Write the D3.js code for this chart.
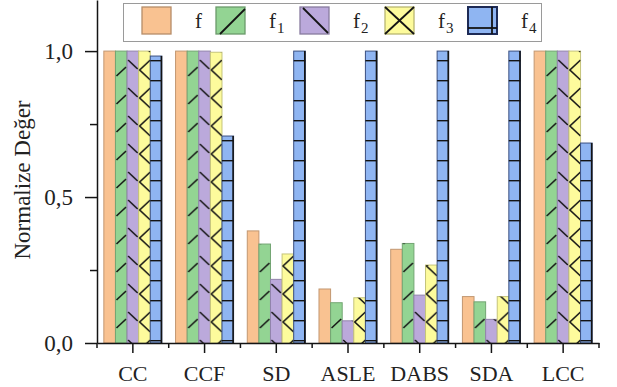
<!DOCTYPE html>
<html>
<head>
<meta charset="utf-8">
<script src="https://cdn.jsdelivr.net/npm/d3@7/dist/d3.min.js"></script>
<style>
  html, body { margin: 0; padding: 0; background: #fff; }
  svg { display: block; }
  text { font-family: "Liberation Serif", "Times New Roman", serif; fill: #222; }
</style>
</head>
<body>
<svg id="chart" width="617" height="387"></svg>
<script>
// Measures along the x axis
const categories = ["CC", "CCF", "SD", "ASLE", "DABS", "SDA", "LCC"];

// Series names and their subscripts
const seriesNames = ["f", "f1", "f2", "f3", "f4"];
const seriesSubs  = ["", "1", "2", "3", "4"];

// Normalised values per series, one entry per category
const fValues  = [1.000, 1.000, 0.384, 0.185, 0.321, 0.159, 1.000];
const f1Values = [1.000, 1.000, 0.339, 0.138, 0.341, 0.141, 1.000];
const f2Values = [1.000, 1.000, 0.218, 0.076, 0.164, 0.081, 1.000];
const f3Values = [1.000, 0.996, 0.305, 0.155, 0.267, 0.159, 1.000];
const f4Values = [0.983, 0.709, 1.000, 1.000, 1.000, 1.000, 0.685];

// Axis ticks
const yMajorTicks = [0, 0.5, 1.0];
const yMinorTicks = [0.25, 0.75];
const yTickLabels = ["0,0", "0,5", "1,0"];

const seriesValues = [fValues, f1Values, f2Values, f3Values, f4Values];
const fills = ["#f9c291", "#93d493", "#bba9db", "#fdfb9c", "#8fb5f2"];
const ink = "#141414";
const serif = '"Liberation Serif", "Times New Roman", serif';

const svg = d3.select("#chart");
const left = 97, right = 599, bottom = 343;

const x = d3.scaleBand().domain(categories).range([left, right]).paddingInner(0).paddingOuter(0);
const xs = d3.scaleBand().domain(seriesNames).range([0, x.step()]).paddingInner(0).paddingOuter(0.59);
const y = d3.scaleLinear().domain([0, 1.175]).range([bottom, 0]);

const bw = xs.bandwidth();
const step = x.step();

// Hatch patterns: one tile per category column so every group looks alike
const defs = svg.append("defs");
function columnPattern(id, h, draw) {
  const p = defs.append("pattern").attr("id", id)
    .attr("patternUnits", "userSpaceOnUse")
    .attr("x", left).attr("y", 0)
    .attr("width", step).attr("height", h);
  draw(p);
}
const x1 = xs("f1"), x2 = xs("f2"), x3 = xs("f3");
columnPattern("pat-f1", 28, p => {
  p.append("line").attr("x1", x1 + 1).attr("y1", 20).attr("x2", x1 + bw - 1).attr("y2", 11)
    .attr("stroke", ink).attr("stroke-width", 1.6);
});
columnPattern("pat-f2", 28, p => {
  p.append("line").attr("x1", x2 + 1).attr("y1", 4).attr("x2", x2 + bw - 1).attr("y2", 13)
    .attr("stroke", ink).attr("stroke-width", 1.6);
});
columnPattern("pat-f3", 28, p => {
  p.append("polyline")
    .attr("points", `${x3 + bw},${4} ${x3 + 1},${14} ${x3 + bw},${24}`)
    .attr("fill", "none").attr("stroke", ink).attr("stroke-width", 1.6);
});
defs.append("pattern").attr("id", "pat-f4")
  .attr("patternUnits", "userSpaceOnUse")
  .attr("x", 0).attr("y", 0).attr("width", 20).attr("height", 20)
  .append("line").attr("x1", 0).attr("y1", 0.5).attr("x2", 20).attr("y2", 0.5)
  .attr("stroke", ink).attr("stroke-width", 1.8);

const patternIds = [null, "pat-f1", "pat-f2", "pat-f3", "pat-f4"];

// Bars
const groups = svg.append("g").selectAll("g")
  .data(seriesNames)
  .join("g");

groups.each(function (name, si) {
  const g = d3.select(this);
  const rows = categories.map((c, ci) => ({ c, v: seriesValues[si][ci] }));
  const base = d3.color(fills[si]);
  g.selectAll("rect.fill").data(rows).join("rect")
    .attr("x", d => x(d.c) + xs(name))
    .attr("y", d => y(d.v))
    .attr("width", bw)
    .attr("height", d => y(0) - y(d.v))
    .attr("fill", fills[si])
    .attr("stroke", si === 4 ? "#3a4f80" : base.darker(0.7))
    .attr("stroke-width", 1);
  if (patternIds[si]) {
    g.selectAll("rect.hatch").data(rows).join("rect")
      .attr("x", d => x(d.c) + xs(name))
      .attr("y", d => y(d.v))
      .attr("width", bw)
      .attr("height", d => y(0) - y(d.v))
      .attr("fill", `url(#${patternIds[si]})`);
  }
  if (si === 4) {
    g.selectAll("line.edge").data(rows).join("line")
      .attr("x1", d => x(d.c) + xs(name) + bw - 0.5)
      .attr("x2", d => x(d.c) + xs(name) + bw - 0.5)
      .attr("y1", d => y(d.v))
      .attr("y2", y(0))
      .attr("stroke", ink).attr("stroke-width", 1.6);
  }
});

// Y axis
const yAxis = svg.append("g").attr("transform", `translate(${left},0)`)
  .call(d3.axisLeft(y).tickValues(yMajorTicks).tickSize(12).tickSizeOuter(0).tickPadding(12)
    .tickFormat((d, i) => yTickLabels[i]));
yAxis.attr("font-family", serif);
yAxis.select(".domain").attr("stroke", ink).attr("stroke-width", 1.5);
yAxis.selectAll(".tick line").attr("stroke", ink).attr("stroke-width", 1.5);
yAxis.selectAll(".tick text").attr("font-size", 23).attr("fill", "#222");
const yMinor = svg.append("g").attr("transform", `translate(${left},0)`)
  .call(d3.axisLeft(y).tickValues(yMinorTicks).tickSize(7).tickSizeOuter(0).tickFormat(""));
yMinor.select(".domain").remove();
yMinor.selectAll(".tick line").attr("stroke", ink).attr("stroke-width", 1.5);

// X axis
const xAxis = svg.append("g").attr("transform", `translate(0,${bottom})`)
  .call(d3.axisBottom(x).tickSize(10).tickSizeOuter(0).tickPadding(12));
xAxis.attr("font-family", serif);
xAxis.select(".domain").attr("stroke", ink).attr("stroke-width", 1.5);
xAxis.selectAll(".tick line").attr("stroke", ink).attr("stroke-width", 1.5);
xAxis.selectAll(".tick text").attr("font-size", 22).attr("fill", "#222");
// Minor ticks at the category boundaries
const bounds = categories.map(c => x(c)).concat([x(categories[categories.length - 1]) + step]);
svg.append("g").selectAll("line").data(bounds).join("line")
  .attr("x1", d => d).attr("x2", d => d)
  .attr("y1", bottom).attr("y2", bottom + 5)
  .attr("stroke", ink).attr("stroke-width", 1.5);

// Y axis title
svg.append("text")
  .attr("transform", "translate(30,180) rotate(-90)")
  .attr("text-anchor", "middle")
  .attr("font-size", 23)
  .text("Normalize Değer");

// Legend
const legend = svg.append("g");
legend.append("rect").attr("x", 123.5).attr("y", 3.5).attr("width", 418).attr("height", 38)
  .attr("fill", "#fff").attr("stroke", "#9a9a9a").attr("stroke-width", 1);
const swatchX = [142, 216, 300, 385, 468];
seriesNames.forEach((name, i) => {
  const sx = swatchX[i], sy = 7, sw = 29, sh = 27;
  const item = legend.append("g");
  item.append("rect").attr("x", sx).attr("y", sy).attr("width", sw).attr("height", sh)
    .attr("fill", fills[i])
    .attr("stroke", i === 4 ? "#1d2a55" : d3.color(fills[i]).darker(0.9))
    .attr("stroke-width", i === 4 ? 2 : 1.3);
  const ln = (a, b, c, d) => item.append("line").attr("x1", a).attr("y1", b).attr("x2", c).attr("y2", d)
    .attr("stroke", ink).attr("stroke-width", 1.8);
  if (i === 1) ln(sx + 4, sy + sh, sx + sw, sy + 2);
  if (i === 2) ln(sx + 3, sy + 1, sx + sw - 1, sy + sh - 1);
  if (i === 3) { ln(sx, sy, sx + sw, sy + sh); ln(sx, sy + sh, sx + sw, sy); }
  if (i === 4) { ln(sx, sy + 21, sx + sw, sy + 21); ln(sx + 24, sy, sx + 24, sy + sh); }
  const t = item.append("text").attr("x", sx + sw + 24).attr("y", 28).attr("font-size", 21);
  t.append("tspan").text("f");
  if (seriesSubs[i]) t.append("tspan").attr("dy", 5).attr("dx", 1).attr("font-size", 15).text(seriesSubs[i]);
});
</script>
</body>
</html>
